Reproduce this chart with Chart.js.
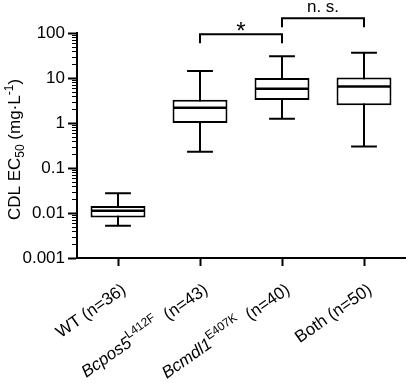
<!DOCTYPE html>
<html><head><meta charset="utf-8">
<script src="https://cdn.jsdelivr.net/npm/chart.js@4/dist/chart.umd.min.js"></script>
<style>html,body{margin:0;padding:0;background:#fff}canvas{display:block}</style>
</head><body>
<canvas id="c" width="408" height="387"></canvas>
<script>
// ---- data ----
const genotypes = ['WT', 'Bcpos5', 'Bcmdl1', 'Both'];
const alleles = ['', 'L412F', 'E407K', ''];
const italicName = [false, true, true, false];
const sampleSizes = [36, 43, 40, 50];
const whiskerMin = [0.0052, 0.23, 1.25, 0.30];
const q1 = [0.0079, 1.0, 3.25, 2.47];
const median = [0.0112, 2.19, 5.8, 6.5];
const q3 = [0.0143, 3.3, 10.0, 10.2];
const whiskerMax = [0.0274, 14.3, 30.3, 36.5];
const yTickValues = [0.001, 0.01, 0.1, 1, 10, 100];
const yTickLabels = ['0.001', '0.01', '0.1', '1', '10', '100'];
const compareFrom = [1, 2];
const compareTo = [2, 3];
const compareLevel = [94, 212];
const compareLabel = ['*', 'n. s.'];

const FONT = '"Liberation Sans", Arial, Helvetica, sans-serif';
const INK = '#000';

const boxPlugin = {
  id: 'boxParts',
  beforeDatasetsDraw(chart) {
    const ctx = chart.ctx, y = chart.scales.y;
    const meta = chart.getDatasetMeta(0);
    ctx.save();
    ctx.strokeStyle = INK; ctx.lineWidth = 2; ctx.lineCap = 'butt';
    meta.data.forEach((bar, i) => {
      const x = Math.round(bar.x);
      const cw = bar.width * 0.235;
      const yMin = y.getPixelForValue(whiskerMin[i]);
      const yMax = y.getPixelForValue(whiskerMax[i]);
      ctx.beginPath();
      ctx.moveTo(x, yMin); ctx.lineTo(x, yMax);
      ctx.moveTo(x - cw, yMin); ctx.lineTo(x + cw, yMin);
      ctx.moveTo(x - cw, yMax); ctx.lineTo(x + cw, yMax);
      ctx.stroke();
    });
    ctx.restore();
  },
  afterDatasetsDraw(chart) {
    const ctx = chart.ctx, y = chart.scales.y;
    const meta = chart.getDatasetMeta(0);
    ctx.save();
    ctx.strokeStyle = INK; ctx.lineWidth = 2.5;
    meta.data.forEach((bar, i) => {
      const ym = y.getPixelForValue(median[i]);
      ctx.beginPath();
      ctx.moveTo(bar.x - bar.width / 2 + 1, ym);
      ctx.lineTo(bar.x + bar.width / 2 - 1, ym);
      ctx.stroke();
    });
    ctx.restore();
  },
  afterDraw(chart) {
    const ctx = chart.ctx, y = chart.scales.y, xs = chart.scales.x;
    const area = chart.chartArea;
    ctx.save();
    // minor y ticks
    ctx.strokeStyle = INK; ctx.lineWidth = 1;
    for (let d = 0; d < yTickValues.length - 1; d++) {
      for (let k = 2; k <= 9; k++) {
        const py = Math.round(y.getPixelForValue(yTickValues[d] * k)) + 0.5;
        ctx.beginPath();
        ctx.moveTo(area.left - 5, py); ctx.lineTo(area.left, py);
        ctx.stroke();
      }
    }
    // y axis title with sub/superscript
    ctx.save();
    ctx.translate(14, (area.top + area.bottom) / 2 + 4);
    ctx.rotate(-Math.PI / 2);
    ctx.fillStyle = INK;
    ctx.textBaseline = 'alphabetic';
    ctx.textAlign = 'left';
    const big = '17px ' + FONT, small = '12px ' + FONT;
    const parts = [
      { t: 'CDL EC', f: big, dy: 0 },
      { t: '50', f: small, dy: 4 },
      { t: ' (mg\u00b7L', f: big, dy: 0 },
      { t: '-1', f: small, dy: -7 },
      { t: ')', f: big, dy: 0 }
    ];
    let total = 0;
    parts.forEach(p => { ctx.font = p.f; p.w = ctx.measureText(p.t).width; total += p.w; });
    let cx = -total / 2;
    parts.forEach(p => { ctx.font = p.f; ctx.fillText(p.t, cx, 6 + p.dy); cx += p.w; });
    ctx.restore();

    // x category labels (rotated)
    const ang = 35 * Math.PI / 180;
    genotypes.forEach((g, i) => {
      const tx = xs.getPixelForValue(i);
      const lp = [];
      lp.push({ t: g, f: (italicName[i] ? 'italic ' : '') + '17px ' + FONT, dy: 0 });
      if (alleles[i]) lp.push({ t: alleles[i], f: '12px ' + FONT, dy: -8 });
      lp.push({ t: (alleles[i] ? '  ' : ' ') + '(n=' + sampleSizes[i] + ')', f: '17px ' + FONT, dy: 0 });
      let tw = 0;
      lp.forEach(p => { ctx.font = p.f; p.w = ctx.measureText(p.t).width; tw += p.w; });
      ctx.save();
      ctx.translate(tx + 9, area.bottom + 34);
      ctx.rotate(-ang);
      ctx.fillStyle = INK; ctx.textAlign = 'left'; ctx.textBaseline = 'alphabetic';
      let px = -tw;
      lp.forEach(p => { ctx.font = p.f; ctx.fillText(p.t, px, p.dy); px += p.w; });
      ctx.restore();
    });

    // significance brackets
    ctx.strokeStyle = INK; ctx.lineWidth = 2; ctx.fillStyle = INK;
    compareFrom.forEach((a, k) => {
      const x1 = xs.getPixelForValue(a), x2 = xs.getPixelForValue(compareTo[k]);
      const yb = y.getPixelForValue(compareLevel[k]);
      ctx.beginPath();
      ctx.moveTo(x1, yb + 9); ctx.lineTo(x1, yb); ctx.lineTo(x2, yb); ctx.lineTo(x2, yb + 9);
      ctx.stroke();
      const star = compareLabel[k] === '*';
      ctx.font = (star ? '24px ' : '17px ') + FONT;
      ctx.textAlign = 'center'; ctx.textBaseline = 'alphabetic';
      ctx.fillText(compareLabel[k], (x1 + x2) / 2, star ? yb + 5 : yb - 6);
    });
    ctx.restore();
  }
};

new Chart(document.getElementById('c'), {
  type: 'bar',
  data: {
    labels: genotypes,
    datasets: [{
      data: q1.map((v, i) => [v, q3[i]]),
      backgroundColor: '#fff',
      borderColor: INK,
      borderWidth: 2,
      borderSkipped: false,
      barPercentage: 0.67,
      categoryPercentage: 1
    }]
  },
  options: {
    responsive: false,
    animation: false,
    layout: { padding: { top: 33, right: 3, left: 0, bottom: 0 } },
    plugins: { legend: { display: false }, tooltip: { enabled: false }, title: { display: false } },
    scales: {
      x: {
        type: 'category',
        offset: true,
        grid: { offset: false, drawOnChartArea: false, drawTicks: true, tickLength: 8, tickWidth: 2, tickColor: INK },
        border: { display: true, color: INK, width: 2 },
        ticks: { display: false },
        afterFit(s) { s.height = 129; }
      },
      y: {
        type: 'logarithmic',
        min: 0.001, max: 100,
        afterBuildTicks(s) { s.ticks = yTickValues.map(v => ({ value: v, major: true })); },
        ticks: {
          autoSkip: false,
          padding: 3,
          color: INK,
          font: { family: FONT, size: 17 },
          callback(value, index) { return yTickLabels[index]; }
        },
        grid: { drawOnChartArea: false, drawTicks: true, tickLength: 9, tickWidth: 2, tickColor: INK },
        border: { display: true, color: INK, width: 2 },
        title: { display: false },
        afterFit(s) { s.width = 77; }
      }
    }
  },
  plugins: [boxPlugin]
});
</script>
</body></html>
